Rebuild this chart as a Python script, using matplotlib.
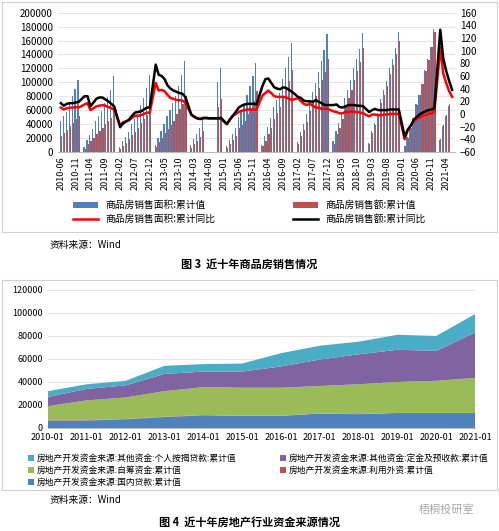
import matplotlib
matplotlib.use("Agg")
import matplotlib.pyplot as plt
import numpy as np
import pandas as pd
from matplotlib.patches import Rectangle

plt.rcParams['font.family'] = ['Noto Sans CJK SC', 'DejaVu Sans']
N = None
# ---- Figure 3 data (monthly, 2010-06 .. 2021-06), Jan values not published ----
area_cum = [45000,52000,58000,70000,80000,90000,104000,
 N,7000,17000,24000,33000,44000,51000,59000,70000,79000,89000,109000,
 N,7000,15000,21000,29000,40000,47000,55000,68000,78000,92000,111000,
 N,10000,20000,30000,40000,51000,60000,70000,80000,95000,111000,130000,
 N,10000,18000,26000,35000,48000,N,N,N,N,100000,120000,
 N,8000,17000,25000,35000,50000,57000,67000,82000,95000,109000,128000,
 N,10000,23000,36000,48000,64000,74000,85000,105000,120000,136000,157000,
 N,14000,29000,40000,55000,74000,86000,99000,115000,130000,147000,169000,
 N,15000,30000,42000,57000,77000,89000,103000,120000,133000,148000,171000,
 N,13000,30000,42000,56000,76000,89000,102000,120000,133000,149000,172000,
 N,8000,22000,34000,49000,69000,82000,98000,117000,133000,151000,176000,
 N,17000,37000,52000,66000,N]
amount_cum = [23000,27000,31000,37000,42000,47000,52000,
 N,4000,11000,15000,20000,25000,30000,34000,40000,44000,49000,59000,
 N,4000,9000,13000,18000,24000,29000,34000,41000,47000,53000,64000,
 N,7000,14000,20000,27000,33000,39000,45000,54000,61000,69000,81000,
 N,6000,11000,16000,21000,30000,N,N,N,N,65000,76000,
 N,6000,12000,17000,23000,34000,39000,45000,55000,63000,73000,87000,
 N,8000,16000,25000,34000,47000,56000,65000,80000,91000,102000,117000,
 N,11000,23000,32000,43000,59000,70000,80000,92000,103000,115000,134000,
 N,12000,25000,35000,47000,66000,77000,89000,104000,116000,129000,150000,
 N,12000,27000,38000,51000,70000,82000,95000,112000,125000,140000,160000,
 N,8000,20000,34000,50000,67000,82000,98000,116000,132000,151000,173000,
 N,19000,38000,53000,69000,N]
area_yoy = [10,7,9,10,10,11,10,
 N,15,17,6,9,12,13,14,13,11,9,7,
 N,-18,-13,-12,-10,-6,-3,-3,-2,0,2,2,
 N,49,37,38,36,30,25,24,22,22,21,18,
 N,-1,-4,-7,-8,-6,-7,-7,-7,-7,-7,-8,
 N,-16,-9,-3,0,3,5,6,7,7,7,7,
 N,29,33,37,33,28,27,27,27,26,24,22,
 N,25,20,16,14,16,13,10,10,8,8,8,
 N,4,3,1,1,3,3,4,3,3,2,1,
 N,-4,-1,-1,-2,-2,-1,-1,0,0,0,0,
 N,-40,-26,-19,-12,-8,-6,-3,-2,0,1,3,
 N,105,64,49,36,27]
amount_yoy = [17,13,16,17,17,18,19,
 N,28,28,12,18,24,26,26,23,20,16,12,
 N,-21,-15,-12,-9,-3,2,3,4,7,10,10,
 N,78,62,60,55,45,40,37,35,33,32,27,
 N,-1,-5,-7,-8,-7,-6,-7,-7,-7,-7,-6,
 N,-16,-9,-3,3,10,13,15,16,16,16,15,
 N,44,55,56,49,42,40,39,42,41,38,35,
 N,27,25,21,20,20,19,22,19,17,14,14,
 N,14,15,11,10,12,14,14,14,13,13,12,
 N,3,6,8,6,6,6,6,7,7,7,7,
 N,-36,-25,-19,-10,-5,-1,2,4,6,7,9,
 N,133,88,68,52,38]
months = [p.strftime('%Y-%m') for p in pd.period_range('2010-06', '2021-06', freq='M')]

# ---- Figure 4 data (yearly) ----
years = ['2010-01','2011-01','2012-01','2013-01','2014-01','2015-01','2016-01',
         '2017-01','2018-01','2019-01','2020-01','2021-01']
domestic_loan = [6500,6500,7500,9500,11000,10500,10500,12500,12000,13000,13000,13000]
foreign_cap   = [300,300,300,300,300,200,200,100,100,100,100,100]
self_raised   = [12200,17200,18700,22200,24200,24300,24300,23900,25900,26900,27900,30400]
deposits      = [8000,10000,10500,15000,13500,14000,18500,23000,26000,28000,26000,39500]
mortgage      = [5000,4000,4000,7000,6500,7000,11500,12000,11000,13000,13000,16000]

fig = plt.figure(figsize=(4.99, 5.31), dpi=100)
for (y0, h) in [(1-232/531, 230/531), (1-490/531, 210/531)]:
    fig.patches.append(Rectangle((0.004, y0), 0.992, h, transform=fig.transFigure,
                                 fill=False, ec='#d0d0d0', lw=0.8))

# Top chart
ax = fig.add_axes([0.116, 0.714, 0.796, 0.262])
x = np.arange(len(months))
a = np.array([np.nan if v is None else v for v in area_cum], float)
b = np.array([np.nan if v is None else v for v in amount_cum], float)
ax.bar(x-0.2, a, width=0.4, color='#4F81BD', label='商品房销售面积:累计值')
ax.bar(x+0.2, b, width=0.4, color='#C0504D', label='商品房销售额:累计值')
ax.set_ylim(0, 200000); ax.set_yticks(range(0, 200001, 20000))
ax.set_xlim(-1, len(months))
ax.set_xticks(x[::5]); ax.set_xticklabels(months[::5], rotation=90, fontsize=6.5)
ax.tick_params(axis='y', labelsize=7, length=0); ax.tick_params(axis='x', length=0)
ax.grid(axis='y', color='#e0e0e0', lw=0.6); ax.set_axisbelow(True)
for s in ['top', 'right', 'left']: ax.spines[s].set_visible(False)
ax.spines['bottom'].set_color('#bbbbbb')
ax2 = ax.twinx()
ry = np.array([np.nan if v is None else v for v in area_yoy], float)
ky = np.array([np.nan if v is None else v for v in amount_yoy], float)
m1 = ~np.isnan(ry); m2 = ~np.isnan(ky)
ax2.plot(x[m1], ry[m1], color='#FF0000', lw=1.8, label='商品房销售面积:累计同比')
ax2.plot(x[m2], ky[m2], color='black', lw=1.8, label='商品房销售额:累计同比')
ax2.set_ylim(-60, 160); ax2.set_yticks(range(-60, 161, 20))
ax2.tick_params(axis='y', labelsize=7, length=0)
for s in ax2.spines.values(): s.set_visible(False)
h1, l1 = ax.get_legend_handles_labels(); h2, l2 = ax2.get_legend_handles_labels()
fig.legend([h1[0], h2[0], h1[1], h2[1]], [l1[0], l2[0], l1[1], l2[1]], ncol=2,
           loc='center', bbox_to_anchor=(0.5, 1-212/531), frameon=False, fontsize=7,
           columnspacing=8, handlelength=2.5, handleheight=0.6, labelspacing=0.4)
fig.text(0.10, 1-245/531, '资料来源：Wind', fontsize=7, va='center')
fig.text(0.5, 1-264/531, '图 3  近十年商品房销售情况', fontsize=8, weight='bold', ha='center', va='center')

# Bottom chart
bx = fig.add_axes([0.096, 0.194, 0.856, 0.26])
xx = np.arange(len(years))
bx.stackplot(xx, domestic_loan, foreign_cap, self_raised, deposits, mortgage,
             colors=['#4F81BD', '#C0504D', '#9BBB59', '#8064A2', '#4BACC6'],
             labels=['房地产开发资金来源:国内贷款:累计值', '房地产开发资金来源:利用外资:累计值',
                     '房地产开发资金来源:自筹资金:累计值', '房地产开发资金来源:其他资金:定金及预收款:累计值',
                     '房地产开发资金来源:其他资金:个人按揭贷款:累计值'])
bx.set_xlim(0, len(years)-1); bx.set_ylim(0, 120000)
bx.set_yticks(range(0, 120001, 20000)); bx.set_xticks(xx); bx.set_xticklabels(years)
bx.tick_params(labelsize=6.5, length=0)
bx.grid(axis='y', color='#e0e0e0', lw=0.6); bx.set_axisbelow(True)
for s in ['top', 'right', 'left']: bx.spines[s].set_visible(False)
bx.spines['bottom'].set_color('#bbbbbb')
hh, ll = bx.get_legend_handles_labels()
order = [4, 2, 0, 3, 1]
fig.legend([hh[i] for i in order], [ll[i] for i in order], ncol=2, loc='upper left',
           bbox_to_anchor=(0.04, 1-446/531), frameon=False, fontsize=6.3,
           columnspacing=5, handlelength=0.7, handleheight=0.7, labelspacing=0.35, handletextpad=0.3)
fig.text(0.10, 1-500/531, '资料来源：Wind', fontsize=7, va='center')
fig.text(0.84, 1-510/531, '梧桐投研室', fontsize=8, color='#aaaaaa', va='center')
fig.text(0.5, 1-522/531, '图 4  近十年房地产行业资金来源情况', fontsize=8, weight='bold', ha='center', va='center')

fig.savefig('out.png', dpi=100)
